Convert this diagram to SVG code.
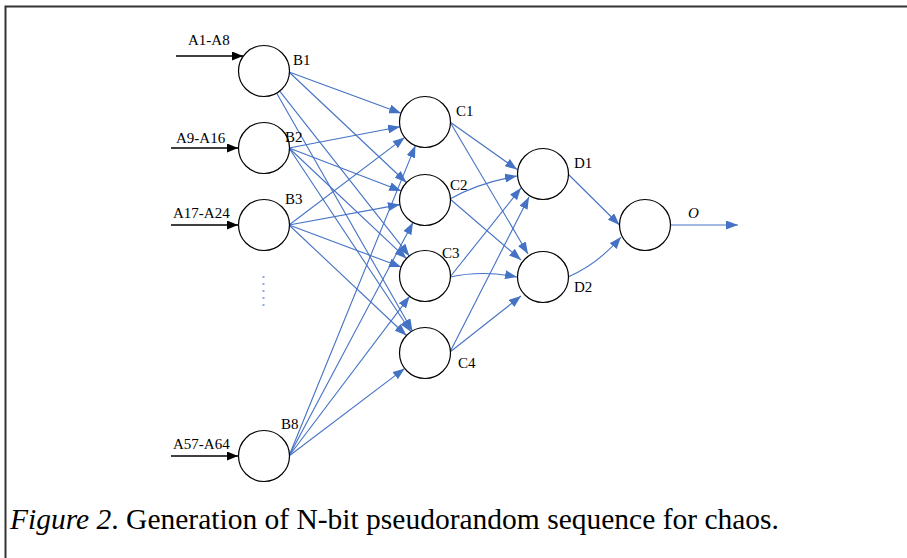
<svg xmlns="http://www.w3.org/2000/svg" width="907" height="558" viewBox="0 0 907 558">
<style>
.node{fill:#fff;stroke:#000;stroke-width:1.2}
.lbl{font-family:"Liberation Serif",serif;font-size:15px;fill:#000}
.cap{font-family:"Liberation Serif",serif;font-size:29.5px;fill:#000}
.c{stroke:#4472C4;stroke-width:1.1;fill:none;marker-end:url(#ab)}
.in{stroke:#000;stroke-width:1.3;fill:none;marker-end:url(#ak)}
</style>
<defs>
<marker id="ab" viewBox="0 0 12 9" refX="12" refY="4.5" markerWidth="12" markerHeight="9" markerUnits="userSpaceOnUse" orient="auto"><path d="M0,0 L12,4.5 L0,9 z" fill="#4472C4"/></marker>
<marker id="ak" viewBox="0 0 11 9" refX="11" refY="4.5" markerWidth="11" markerHeight="9" markerUnits="userSpaceOnUse" orient="auto"><path d="M0,0 L11,4.5 L0,9 z" fill="#000"/></marker>
</defs>
<rect width="907" height="558" fill="#fff"/>
<path d="M5.5,558 V6.5 H907" fill="none" stroke="#333" stroke-width="2"/>
<g id="connectors">
<line class="in" x1="176" y1="56" x2="243" y2="56"/>
<line class="in" x1="171" y1="148" x2="238" y2="148"/>
<line class="in" x1="171" y1="225" x2="238" y2="225"/>
<line class="in" x1="171" y1="456" x2="238" y2="456"/>
<line class="c" x1="289" y1="72" x2="401.1" y2="113.2"/>
<line class="c" x1="289" y1="72" x2="406.4" y2="182.5"/>
<line class="c" x1="279.7" y1="91.1" x2="409.3" y2="255.9"/>
<line class="c" x1="276.6" y1="93.1" x2="412.4" y2="330.9"/>
<line class="c" x1="289" y1="148" x2="400" y2="126.8"/>
<line class="c" x1="289" y1="148" x2="401.2" y2="190.9"/>
<line class="c" x1="289" y1="148" x2="406.4" y2="258.5"/>
<line class="c" x1="289" y1="148" x2="410.9" y2="331.8"/>
<line class="c" x1="289" y1="225" x2="404.7" y2="137.4"/>
<line class="c" x1="289" y1="225" x2="399.9" y2="204.6"/>
<line class="c" x1="289" y1="225" x2="401.1" y2="267"/>
<line class="c" x1="289" y1="225" x2="406.4" y2="335.5"/>
<line class="c" x1="289" y1="456" x2="415.4" y2="145.6"/>
<line class="c" x1="289" y1="456" x2="413" y2="222.5"/>
<line class="c" x1="289" y1="456" x2="409.6" y2="296.3"/>
<line class="c" x1="289" y1="456" x2="404.7" y2="368.4"/>
<line class="c" x1="450" y1="122" x2="517" y2="169.5"/>
<line class="c" x1="450" y1="122" x2="528" y2="254"/>
<path class="c" d="M450,199 Q478,183 517,176"/>
<line class="c" x1="450" y1="199" x2="521" y2="260"/>
<line class="c" x1="450" y1="277" x2="521" y2="188"/>
<path class="c" d="M450,277 Q482,270 517,277"/>
<line class="c" x1="450" y1="352" x2="529" y2="197"/>
<line class="c" x1="450" y1="352" x2="521" y2="296"/>
<line class="c" x1="568" y1="174" x2="619.5" y2="225"/>
<path class="c" d="M568,277 Q598,264 621,237"/>
<line class="c" x1="670.5" y1="225" x2="738" y2="225"/>
</g>
<g id="B1"><circle class="node" cx="264" cy="71" r="25.5"/><text class="lbl" x="293" y="65">B1</text></g>
<g id="B2"><circle class="node" cx="264" cy="148" r="25.5"/><text class="lbl" x="285" y="142">B2</text></g>
<g id="B3"><circle class="node" cx="264" cy="225" r="25.5"/><text class="lbl" x="285" y="204">B3</text></g>
<g id="B8"><circle class="node" cx="264" cy="456" r="25.5"/><text class="lbl" x="281" y="429">B8</text></g>
<g id="C1"><circle class="node" cx="425" cy="122" r="25.5"/><text class="lbl" x="456" y="116">C1</text></g>
<g id="C2"><circle class="node" cx="425" cy="200" r="25.5"/><text class="lbl" x="450" y="190">C2</text></g>
<g id="C3"><circle class="node" cx="425" cy="276" r="25.5"/><text class="lbl" x="442" y="258">C3</text></g>
<g id="C4"><circle class="node" cx="425" cy="353" r="25.5"/><text class="lbl" x="458" y="368">C4</text></g>
<g id="D1"><circle class="node" cx="543" cy="174" r="25.5"/><text class="lbl" x="574" y="168">D1</text></g>
<g id="D2"><circle class="node" cx="543" cy="277" r="25.5"/><text class="lbl" x="574" y="292">D2</text></g>
<g id="Out"><circle class="node" cx="645" cy="225" r="25.5"/><text class="lbl" x="688" y="218" font-style="italic">O</text></g>
<g id="inputs">
<text class="lbl" x="188" y="45">A1-A8</text>
<text class="lbl" x="176" y="143">A9-A16</text>
<text class="lbl" x="173" y="218">A17-A24</text>
<text class="lbl" x="173" y="449">A57-A64</text>
</g>
<g id="dots" fill="#8FAADC">
<rect x="262.5" y="276" width="2" height="2"/>
<rect x="262.5" y="283" width="2" height="2"/>
<rect x="262.5" y="290" width="2" height="2"/>
<rect x="262.5" y="297" width="2" height="2"/>
<rect x="262.5" y="304" width="2" height="2"/>
</g>
<text class="cap" x="10" y="529"><tspan font-style="italic">Figure 2</tspan>. Generation of N-bit pseudorandom sequence for chaos.</text>
</svg>
